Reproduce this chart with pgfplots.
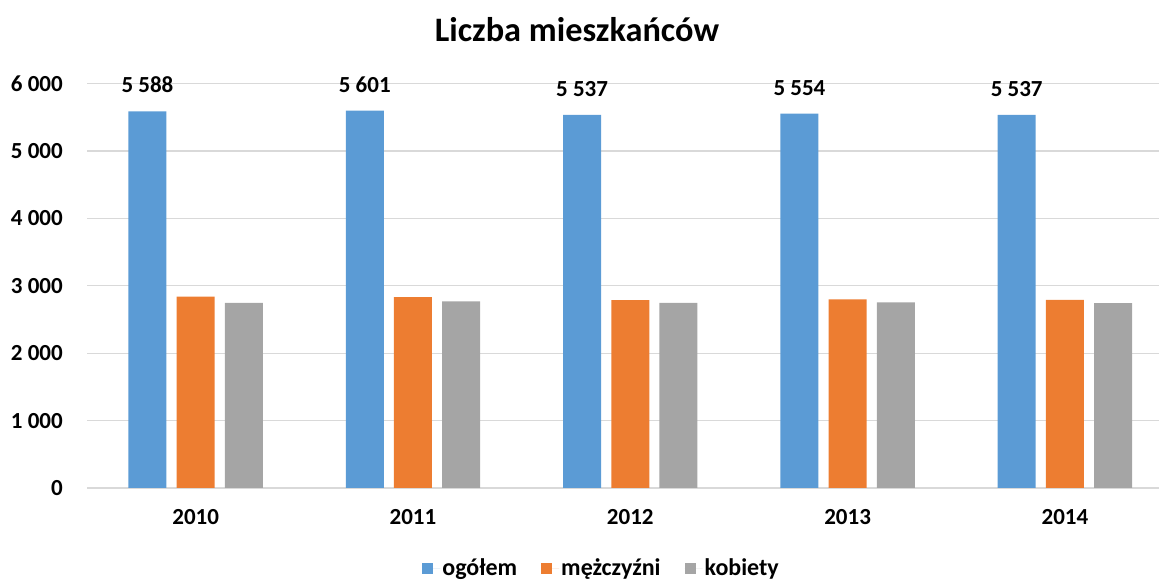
\documentclass[border=0pt]{standalone}
\usepackage{fontspec}
\setmainfont{Carlito}
\usepackage{pgfplots}
\pgfplotsset{compat=1.18}
\definecolor{cblue}{HTML}{5B9BD5}
\definecolor{corange}{HTML}{ED7D31}
\definecolor{cgray}{HTML}{A5A5A5}
\definecolor{cgrid}{HTML}{D9D9D9}
\begin{document}
\begin{tikzpicture}[x=1pt,y=1pt]
\useasboundingbox (0,0) rectangle (1159,583);
\node[font=\bfseries\fontsize{34.3}{34.3}\selectfont, anchor=base, inner sep=0pt] at (577,541) {Liczba mieszkańców};
\begin{axis}[
  at={(87pt,95pt)}, anchor=south west, scale only axis,
  width=1072pt, height=404.3pt,
  xmin=-0.5, xmax=4.433, ymin=0, ymax=6000,
  ybar, bar width=38pt,
  axis line style={draw=none},
  ymajorgrids, grid style={cgrid, line width=1.3pt},
  major tick length=0pt,
  ytick={0,1000,...,6000},
  xtick={0,1,2,3,4},
  xticklabels={2010,2011,2012,2013,2014},
  /pgf/number format/assume math mode=true,
  /pgf/number format/1000 sep={\ },
  /pgf/number format/fixed,
  yticklabel style={font=\bfseries\fontsize{23}{23}\selectfont, anchor=east, inner sep=0pt, xshift=-24pt},
  xticklabel style={font=\bfseries\fontsize{23}{23}\selectfont, anchor=base, inner sep=0pt, yshift=-37pt},
  legend style={at={(axis description cs:0.48,-0.198)}, anchor=center, draw=none,
    font=\bfseries\fontsize{24}{24}\selectfont, legend columns=-1,
    /tikz/every even column/.append style={column sep=22pt},
    /tikz/every odd column/.append style={column sep=0pt}},
  legend cell align=left,
]
\addplot[fill=cblue, draw=none, bar shift=-48.2pt,
  legend image code/.code={\fill[cblue] (0pt,-5.5pt) rectangle (11pt,5.5pt); \path (0pt,0pt) -- (18pt,0pt);},
  nodes near coords, nodes near coords style={font=\bfseries\fontsize{23}{23}\selectfont, anchor=base, inner sep=0pt, yshift=18.5pt, text=black}]
  coordinates {(0,5588) (1,5601) (2,5537) (3,5554) (4,5537)};
\addlegendentry{ogółem}
\addplot[fill=corange, draw=none, bar shift=0pt,
  legend image code/.code={\fill[corange] (0pt,-5.5pt) rectangle (11pt,5.5pt); \path (0pt,0pt) -- (18pt,0pt);}]
  coordinates {(0,2840) (1,2833) (2,2788) (3,2800) (4,2792)};
\addlegendentry{mężczyźni}
\addplot[fill=cgray, draw=none, bar shift=48.2pt,
  legend image code/.code={\fill[cgray] (0pt,-5.5pt) rectangle (11pt,5.5pt); \path (0pt,0pt) -- (18pt,0pt);}]
  coordinates {(0,2748) (1,2768) (2,2749) (3,2754) (4,2745)};
\addlegendentry{kobiety}
\end{axis}
\end{tikzpicture}
\end{document}
